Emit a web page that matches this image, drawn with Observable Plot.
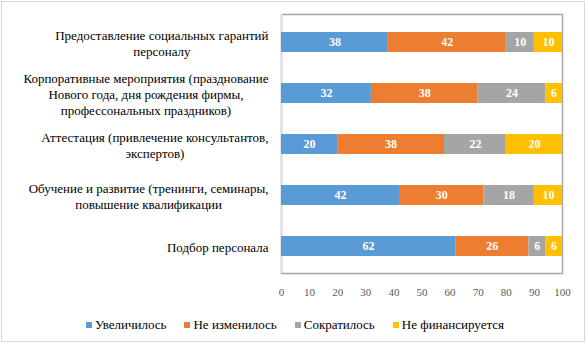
<!DOCTYPE html>
<html><head><meta charset="utf-8">
<script src="https://cdn.jsdelivr.net/npm/d3@7"></script>
<script src="https://cdn.jsdelivr.net/npm/@observablehq/plot@0.6"></script>
<style>
  * { font-family:'Liberation Serif', 'Times New Roman', serif !important; }
  body { margin:0; background:#fff; font:13px 'Liberation Serif'; }
  #wrap { position:relative; width:586px; height:344px; overflow:hidden; }
  #border { position:absolute; left:1px; top:1px; width:582px; height:339px; border:1px solid #d9d9d9; pointer-events:none; }
  #legend { position:absolute; left:0; top:317px; width:586px; display:flex; justify-content:center; gap:18px; font:13px 'Liberation Serif'; color:#000; padding-left:4px; box-sizing:border-box; }
  #legend span.item { display:flex; align-items:center; }
  #legend i { display:inline-block; width:6px; height:6px; margin-right:3px; }
</style>
</head><body>
<div id="wrap"><div id="chart"></div><div id="legend"></div><div id="border"></div></div>
<script>
const categories = [
  "Предоставление социальных гарантий\nперсоналу",
  "Корпоративные мероприятия (празднование\nНового года, дня рождения фирмы,\nпрофессональных праздников)",
  "Аттестация (привлечение консультантов,\nэкспертов)",
  "Обучение и развитие (тренинги, семинары,\nповышение квалификации",
  "Подбор персонала"
];
const seriesNames = ["Увеличилось", "Не изменилось", "Сократилось", "Не финансируется"];
const increased   = [38, 32, 20, 42, 62];
const unchanged   = [42, 38, 38, 30, 26];
const reduced     = [10, 24, 22, 18, 6];
const notFunded   = [10, 6, 20, 10, 6];
const xTicks = [0, 10, 20, 30, 40, 50, 60, 70, 80, 90, 100];
const colors = ["#5B9BD5", "#ED7D31", "#A5A5A5", "#FFC000"];

const seriesValues = [increased, unchanged, reduced, notFunded];
const data = [];
categories.forEach((c, i) => {
  seriesNames.forEach((s, j) => data.push({cat: c, series: s, value: seriesValues[j][i]}));
});

const FONT = "Liberation Serif";

const chart = Plot.plot({
  width: 586,
  height: 312,
  marginLeft: 281,
  marginRight: 24,
  marginTop: 14,
  marginBottom: 39,
  style: {fontFamily: FONT, background: "transparent"},
  x: {domain: [0, 100], ticks: xTicks, label: null},
  y: {domain: categories, label: null, paddingInner: 0.612, paddingOuter: 0.321},
  color: {domain: seriesNames, range: colors},
  marks: [
    Plot.frame({stroke: "#a6a6a6", strokeWidth: 1.5}),
    Plot.ruleX([0], {stroke: "#e3e3e3", strokeWidth: 1.5}),
    Plot.barX(data, Plot.stackX({x: "value", y: "cat", fill: "series", z: "series"})),
    Plot.text(data, Plot.stackX({x: "value", y: "cat", z: "series", text: "value",
      fill: "white", fontWeight: "bold", fontSize: 12, fontFamily: FONT})),
    Plot.axisX({ticks: xTicks, tickSize: 0, tickPadding: 15, fontSize: 11, color: "#595959", label: null, fontFamily: FONT}),
    Plot.axisY({tickSize: 0, tickPadding: 13, fontSize: 13, color: "#000", label: null, lineHeight: 1.23, fontFamily: FONT})
  ]
});
document.getElementById("chart").appendChild(chart);
chart.querySelectorAll("text, tspan").forEach(t => { t.setAttribute("font-family", FONT); t.style.fontFamily = FONT; });

// center each line of multi-line category labels within its own block (block right-aligned)
chart.querySelectorAll('g[aria-label="y-axis tick label"] text').forEach(t => {
  const tspans = t.querySelectorAll("tspan");
  if (!tspans.length) return;
  let w = 0;
  tspans.forEach(s => { w = Math.max(w, s.getComputedTextLength()); });
  t.setAttribute("text-anchor", "middle");
  tspans.forEach(s => s.setAttribute("x", -w / 2));
});

const legend = document.getElementById("legend");
seriesNames.forEach((s, i) => {
  const item = document.createElement("span");
  item.className = "item";
  item.style.font = "13px 'Liberation Serif'";
  item.innerHTML = `<i style="background:${colors[i]}"></i>${s}`;
  legend.appendChild(item);
});
</script>
</body></html>
